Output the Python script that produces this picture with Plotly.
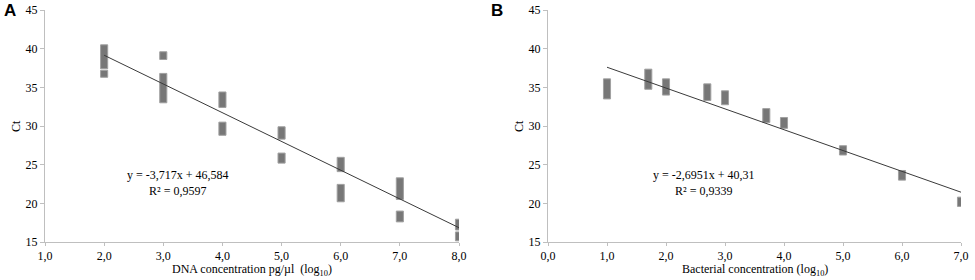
import plotly.graph_objects as go

# Panel A: DNA concentration (log10) vs Ct, replicate ranges
a_x = [2.0, 2.0, 3.0, 3.0, 4.0, 4.0, 5.0, 5.0, 6.0, 6.0, 7.0, 7.0, 8.0, 8.0]
a_low = [37.4, 36.3, 38.6, 33.0, 32.4, 28.8, 28.3, 25.2, 24.1, 20.2, 20.5, 17.6, 16.55, 15.15]
a_high = [40.5, 37.2, 39.6, 36.8, 34.4, 30.5, 29.9, 26.5, 25.95, 22.45, 23.3, 19.0, 17.95, 16.3]
a_trend_x = [2.0, 8.0]
a_trend_y = [39.15, 16.85]

# Panel B: bacterial concentration (log10) vs Ct
b_x = [1.0, 1.7, 2.0, 2.7, 3.0, 3.7, 4.0, 5.0, 6.0, 7.0]
b_low = [33.5, 34.75, 34.0, 33.3, 32.75, 30.45, 29.7, 26.25, 23.0, 19.6]
b_high = [36.1, 37.35, 36.1, 35.45, 34.55, 32.25, 31.1, 27.45, 24.25, 20.8]
b_trend_x = [1.0, 7.0]
b_trend_y = [37.6, 21.44]

y_ticks = [15, 20, 25, 30, 35, 40, 45]
a_xticks = [1, 2, 3, 4, 5, 6, 7, 8]
b_xticks = [0, 1, 2, 3, 4, 5, 6, 7]

SERIF = "Liberation Serif"
BAR_FILL = "#777777"
BAR_EDGE = "#a0a0a0"
AXIS_COL = "#bfbfbf"

W, H = 975, 280

def px(x):
    return x / W

def py(y):
    return 1 - y / H

fig = go.Figure()

fig.add_trace(go.Bar(x=a_x, base=a_low, y=[h - l for h, l in zip(a_high, a_low)],
                     width=0.12, marker=dict(color=BAR_FILL, line=dict(color=BAR_EDGE, width=1)),
                     xaxis="x", yaxis="y", showlegend=False, hoverinfo="skip"))
fig.add_trace(go.Scatter(x=a_trend_x, y=a_trend_y, mode="lines",
                         line=dict(color="#3a3a3a", width=1),
                         xaxis="x", yaxis="y", showlegend=False, hoverinfo="skip"))
fig.add_trace(go.Bar(x=b_x, base=b_low, y=[h - l for h, l in zip(b_high, b_low)],
                     width=0.12, marker=dict(color=BAR_FILL, line=dict(color=BAR_EDGE, width=1)),
                     xaxis="x2", yaxis="y2", showlegend=False, hoverinfo="skip"))
fig.add_trace(go.Scatter(x=b_trend_x, y=b_trend_y, mode="lines",
                         line=dict(color="#3a3a3a", width=1),
                         xaxis="x2", yaxis="y2", showlegend=False, hoverinfo="skip"))

tickfont = dict(family=SERIF, size=12, color="#000000")
txtfont = dict(family=SERIF, size=12, color="#000000")
y_dom = [py(242), py(10)]

def xaxis(domain, rng, ticks, anchor):
    return dict(domain=domain, range=rng, tickvals=ticks, tickformat=".1f",
                showgrid=False, zeroline=False, showline=True, linecolor=AXIS_COL,
                linewidth=1, ticks="outside", ticklen=3, tickcolor=AXIS_COL,
                tickfont=tickfont, anchor=anchor, automargin=False)

def yaxis(rng, anchor):
    return dict(domain=y_dom, range=rng, tickvals=y_ticks, showgrid=False,
                zeroline=False, showline=True, linecolor=AXIS_COL, linewidth=1,
                ticks="outside", ticklen=4, tickcolor=AXIS_COL, tickfont=tickfont,
                anchor=anchor, automargin=False)

def ptext(text, x, y, font=txtfont, angle=0, xanchor="center"):
    return dict(text=text, x=px(x), y=py(y), xref="paper", yref="paper",
                xanchor=xanchor, yanchor="middle", showarrow=False, textangle=angle,
                font=font)

fig.update_layout(
    width=W, height=H,
    margin=dict(l=0, r=0, t=0, b=0),
    paper_bgcolor="white", plot_bgcolor="white",
    separators=", ",
    barmode="overlay",
    hovermode=False,
    font=dict(family=SERIF),
    xaxis=xaxis([px(45), px(459)], [1, 8], a_xticks, "y"),
    yaxis=yaxis([15, 45], "x"),
    xaxis2=xaxis([px(548), px(961)], [0, 7], b_xticks, "y2"),
    yaxis2=yaxis([15, 45], "x2"),
    annotations=[
        ptext("<b>A</b>", 2, 11, dict(family="Liberation Sans", size=17, color="#000000"),
              xanchor="left"),
        ptext("<b>B</b>", 489, 11, dict(family="Liberation Sans", size=17, color="#000000"),
              xanchor="left"),
        ptext("DNA concentration pg/µl  (log<sub>10</sub>)", 252, 270),
        ptext("Bacterial concentration (log<sub>10</sub>)", 755, 270),
        ptext("Ct", 16, 126, angle=-90),
        ptext("Ct", 519, 126, angle=-90),
        dict(text="y = -3,717x + 46,584<br>R² = 0,9597", x=3.25, y=22.6, xref="x", yref="y",
             showarrow=False, align="center", font=txtfont),
        dict(text="y = -2,6951x + 40,31<br>R² = 0,9339", x=2.64, y=22.6, xref="x2", yref="y2",
             showarrow=False, align="center", font=txtfont),
    ],
)

fig.write_html("out.html",
               config={"displayModeBar": False},
               post_script="document.body.style.margin='0';document.body.style.overflow='hidden';")
